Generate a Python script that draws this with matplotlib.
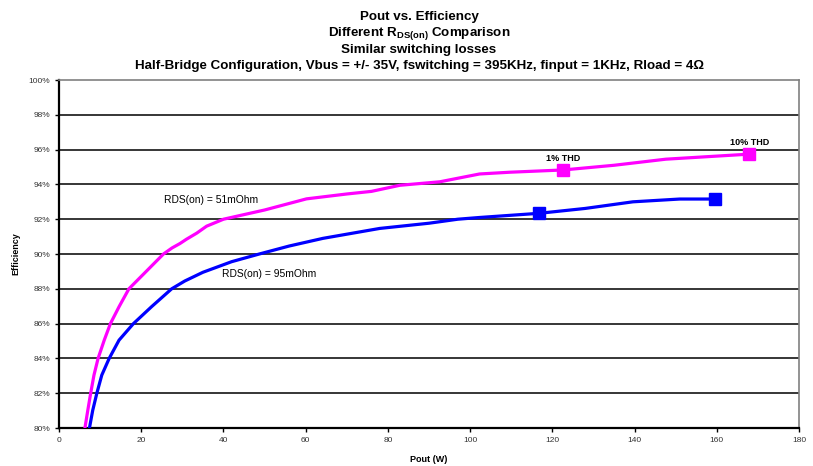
import matplotlib
matplotlib.use("Agg")
import matplotlib.pyplot as plt
from matplotlib.ticker import FuncFormatter

plt.rcParams['font.family'] = ['Liberation Sans', 'DejaVu Sans']

# Efficiency curves (Pout in W, efficiency in %)
pout_51 = [6.3, 7.0, 7.7, 8.5, 9.5, 11.0, 12.5, 14.6, 17.0, 20.7, 25.4, 27.5, 29.4,
           31.0, 33.5, 35.9, 40.0, 50.0, 60.2, 70.0, 76.0, 82.9, 92.6, 102.3, 109.6,
           122.6, 135.0, 147.6, 167.9]
eff_51 = [80.0, 81.02, 82.0, 83.04, 84.0, 85.05, 86.0, 86.97, 88.0, 88.88, 90.0,
          90.35, 90.6, 90.85, 91.2, 91.6, 92.0, 92.53, 93.17, 93.45, 93.6, 93.95,
          94.15, 94.6, 94.7, 94.83, 95.1, 95.45, 95.74]

pout_95 = [7.4, 8.2, 9.2, 10.4, 12.2, 14.6, 18.1, 22.5, 27.4, 30.6, 35.0, 42.0,
           48.7, 56.0, 64.2, 78.0, 90.0, 97.0, 102.3, 116.8, 128.0, 139.6, 151.0,
           159.6]
eff_95 = [80.0, 81.02, 82.0, 83.04, 84.0, 85.05, 86.0, 86.97, 88.0, 88.45, 88.95,
          89.56, 90.0, 90.46, 90.9, 91.47, 91.77, 92.0, 92.1, 92.34, 92.62, 93.0,
          93.16, 93.16]

# THD operating points
thd_51_x = [122.6, 167.9]
thd_51_y = [94.83, 95.74]
thd_95_x = [116.8, 159.6]
thd_95_y = [92.34, 93.16]
thd_labels = ["1% THD", "10% THD"]

x_ticks = list(range(0, 181, 20))
y_ticks = list(range(80, 101, 2))

fig = plt.figure(figsize=(8.13, 4.66), dpi=100)
ax = fig.add_axes([0.0726, 0.0815, 0.9102, 0.7468])

for y in y_ticks[:-1]:
    ax.axhline(y, color='black', lw=1.1, zorder=1)

ax.plot(pout_51, eff_51, color='#ff00ff', lw=2.3, zorder=3, solid_joinstyle='round')
ax.plot(pout_95, eff_95, color='#0000ff', lw=2.3, zorder=3, solid_joinstyle='round')
ax.plot(thd_51_x, thd_51_y, 's', color='#ff00ff', ms=8, zorder=4)
ax.plot(thd_95_x, thd_95_y, 's', color='#0000ff', ms=8, zorder=4)

for x, y, t in zip(thd_51_x, thd_51_y, thd_labels):
    ax.text(x, y + 0.68, t, ha='center', va='center', fontsize=6.5, fontweight='bold')

ax.text(37, 93.1, "RDS(on) = 51mOhm", ha='center', va='center', fontsize=7.4)
ax.text(51.1, 88.85, "RDS(on) = 95mOhm", ha='center', va='center', fontsize=7.4)

ax.set_xlim(0, 180)
ax.set_ylim(80, 100)
ax.set_xticks(x_ticks)
ax.set_yticks(y_ticks)
ax.yaxis.set_major_formatter(FuncFormatter(lambda v, p: f"{v:.0f}%"))
ax.tick_params(axis='both', labelsize=6, labelcolor='#333333', length=3, width=1,
               direction='out')

for side in ('left', 'bottom'):
    ax.spines[side].set_color('black')
    ax.spines[side].set_linewidth(1.6)
for side in ('top', 'right'):
    ax.spines[side].set_color('#808080')
    ax.spines[side].set_linewidth(1.2)

ax.set_xlabel("Pout (W)", fontsize=6.5, fontweight='bold', labelpad=8)
ax.set_ylabel("Efficiency", fontsize=6.5, fontweight='bold', labelpad=6)

title_lines = [
    "Pout vs. Efficiency",
    r"Different R$_{\mathregular{DS(on)}}$ Comparison",
    "Similar switching losses",
    "Half-Bridge Configuration, Vbus = +/- 35V, fswitching = 395KHz, finput = 1KHz, Rload = 4\u03a9",
]
baselines = [20, 36, 52.5, 69]
for t, ypx in zip(title_lines, baselines):
    fig.text(419 / 813, 1 - ypx / 466, t, ha='center', va='baseline',
             fontsize=9.6, fontweight='bold')

fig.savefig("out.png", dpi=100)
